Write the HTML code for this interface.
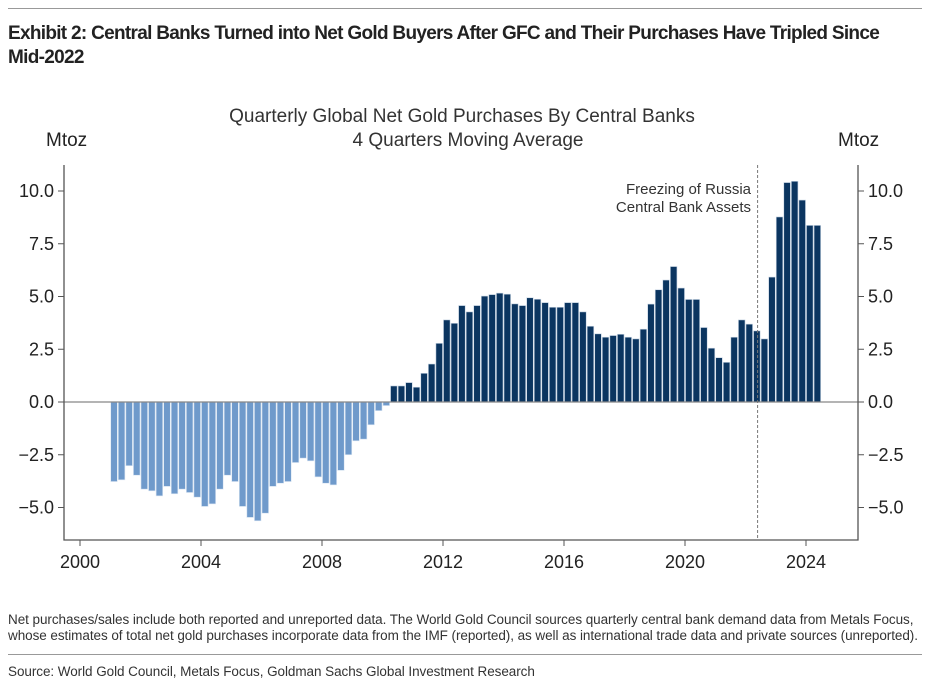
<!DOCTYPE html>
<html><head><meta charset="utf-8"><style>
body{margin:0;background:#fff;width:938px;height:686px;overflow:hidden;font-family:"Liberation Sans",sans-serif}
.hdr{position:absolute;left:8px;top:22px;width:890px;font-family:"Liberation Sans Narrow","Liberation Sans",sans-serif;font-weight:bold;font-size:19px;letter-spacing:-0.7px;line-height:24px;color:#222}
.note{position:absolute;left:8px;font-family:"Liberation Sans Narrow","Liberation Sans",sans-serif;font-size:13.5px;letter-spacing:-0.06px;color:#333;line-height:16px;white-space:nowrap}
.rule{position:absolute;left:8px;width:914px;height:1px;background:#999}
</style></head><body>
<div class="rule" style="top:8px"></div>
<div class="hdr">Exhibit 2: Central Banks Turned into Net Gold Buyers After GFC and Their Purchases Have Tripled Since Mid-2022</div>
<svg id="chart" width="938" height="686" style="position:absolute;left:0;top:0"></svg>
<div class="note" style="top:612px">Net purchases/sales include both reported and unreported data. The World Gold Council sources quarterly central bank demand data from Metals Focus,<br>whose estimates of total net gold purchases incorporate data from the IMF (reported), as well as international trade data and private sources (unreported).</div>
<div class="rule" style="top:654px"></div>
<div class="note" style="top:664px">Source: World Gold Council, Metals Focus, Goldman Sachs Global Investment Research</div>
<script>
const startYear = 2001;
const values = [-3.77,-3.69,-3.02,-3.47,-4.13,-4.21,-4.45,-4.0,-4.35,-4.13,-4.29,-4.51,-4.95,-4.83,-4.13,-3.47,-3.77,-4.95,-5.47,-5.63,-5.27,-4.0,-3.85,-3.77,-2.87,-2.66,-2.79,-3.55,-3.85,-3.93,-3.24,-2.50,-1.84,-1.76,-1.08,-0.41,-0.17,
0.76,0.76,0.92,0.70,1.36,1.80,2.78,3.89,3.73,4.57,4.27,4.57,5.02,5.09,5.16,5.11,4.65,4.57,4.94,4.87,4.71,4.49,4.49,4.71,4.71,4.27,3.59,3.23,3.07,3.15,3.21,3.07,2.99,
3.45,4.64,5.32,5.78,6.42,5.40,4.86,4.86,3.53,2.55,2.10,1.88,3.07,3.89,3.69,3.37,2.99,5.92,8.77,10.40,10.46,9.57,8.37,8.37];
const xTicks = [2000,2004,2008,2012,2016,2020,2024];
const yTicks = [-5,-2.5,0,2.5,5,7.5,10];
const eventYear = 2022.2;
const NS="http://www.w3.org/2000/svg";
const svg=document.getElementById('chart');
const X=y=>80+(y-2000)*30.25;
const Y=v=>402-v*21.1;
function mk(t,a,p){const e=document.createElementNS(NS,t);for(const k in a)e.setAttribute(k,a[k]);(p||svg).appendChild(e);return e;}
function txt(s,x,y,a){const e=mk('text',Object.assign({x:x,y:y,'font-size':18,fill:'#222','font-family':'Liberation Sans, sans-serif'},a||{}));e.textContent=s;return e;}
let t;
t=txt('Quarterly Global Net Gold Purchases By Central Banks',462,122,{'text-anchor':'middle',fill:'#333','font-size':19});

t=txt('4 Quarters Moving Average',468,146,{'text-anchor':'middle',fill:'#333','font-size':19});

t=txt('Mtoz',46,146,{'font-size':19});

t=txt('Mtoz',838,146,{'font-size':19});

values.forEach((v,i)=>{const yr=startYear+i/4+0.125;const x=X(yr);
const r=mk('rect',{x:x-3.3,y:Math.min(Y(v),Y(0)),width:6.6,height:Math.abs(Y(v)-Y(0)),fill:v<0?'#6f9acb':'#0b3560',stroke:v<0?'#dbe6f3':'#c9d6e4','stroke-width':0.6});
});
t=mk('line',{x1:64,x2:858,y1:Y(0),y2:Y(0),stroke:'#888','stroke-width':1.3});

t=mk('line',{x1:X(eventYear+0.2),x2:X(eventYear+0.2),y1:165,y2:540,stroke:'#777','stroke-dasharray':'3,2','stroke-width':1});

t=txt('Freezing of Russia',751,194,{'text-anchor':'end','font-size':15,fill:'#333'});

t=txt('Central Bank Assets',751,212,{'text-anchor':'end','font-size':15,fill:'#333'});

t=mk('path',{d:'M64,165V540H858V165',fill:'none',stroke:'#555','stroke-width':1.3});

yTicks.forEach(v=>{const y=Y(v);const s=v.toFixed(1).replace('-','−');
mk('line',{x1:58,x2:64,y1:y,y2:y,stroke:'#555'});mk('line',{x1:858,x2:864,y1:y,y2:y,stroke:'#555'});
t=txt(s,54,y+6,{'text-anchor':'end'});
t=txt(s,868,y+6,{});});
xTicks.forEach(yr=>{const x=X(yr);mk('line',{x1:x,x2:x,y1:540,y2:546,stroke:'#555'});
t=txt(String(yr),x,568,{'text-anchor':'middle'});});
</script>
</body></html>
